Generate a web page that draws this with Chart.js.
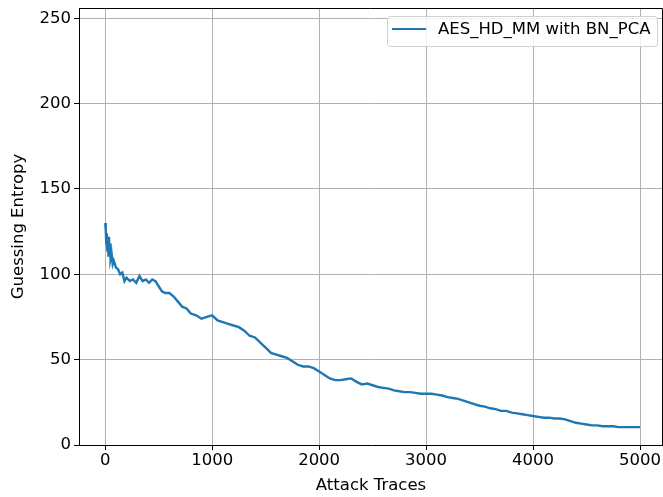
<!DOCTYPE html>
<html>
<head>
<meta charset="utf-8">
<script src="https://cdn.jsdelivr.net/npm/chart.js"></script>
<style>
  html, body { margin: 0; padding: 0; background: #fff; }
  #wrap { width: 663px; height: 497px; }
</style>
</head>
<body>
<div id="wrap"><canvas id="geChart"></canvas></div>
<script>
const traces = [0,5,10,15,20,25,30,35,40,45,50,60,70,80,100,120,140,160,180,200,
  230,260,290,320,350,380,410,440,470,500,530,560,600,640,680,720,760,800,850,900,
  950,1000,1050,1100,1150,1200,1250,1300,1350,1400,1450,1500,1550,1600,1650,1700,
  1750,1800,1850,1900,1950,2000,2050,2100,2150,2200,2250,2300,2350,2400,2450,2500,
  2550,2600,2650,2700,2750,2800,2850,2900,2950,3000,3050,3100,3150,3200,3250,3300,
  3350,3400,3450,3500,3550,3600,3650,3700,3750,3800,3850,3900,3950,4000,4050,4100,
  4150,4200,4250,4300,4350,4400,4450,4500,4550,4600,4650,4700,4750,4800,4850,4900,
  4950,5000];
const guessingEntropy = [130,126,118,124,114,120,111,122,113,118,109,112,106,108,104,103,100,101,96,98,
  96,97,95,99,96,97,95,97,96,93,90,89,89,87,84,81,80,77,76,74,
  75,76,73,72,71,70,69,67,64,63,60,57,54,53,52,51,
  49,47,46,46,45,43,41,39,38,38,38.5,39,37,35.5,36,35,
  34,33.5,33,32,31.5,31,31,30.5,30,30,30,29.5,29,28,27.5,27,
  26,25,24,23,22.5,21.5,21,20,20,19,18.5,18,17.5,17,16.5,16,
  16,15.5,15.5,15,14,13,12.5,12,11.5,11.5,11,11,11,10.5,10.5,10.5,
  10.5,10.5];
const xTicks = [0, 1000, 2000, 3000, 4000, 5000];
const yTicks = [0, 50, 100, 150, 200, 250];
const seriesName = "AES_HD_MM with BN_PCA";

const FONT = "'DejaVu Sans', sans-serif";
const FS = 16.5;

// top/right spines + in-axes legend
const frameAndLegend = {
  id: "frameAndLegend",
  afterDraw(chart) {
    const { ctx, chartArea: a } = chart;
    ctx.save();
    ctx.strokeStyle = "#000";
    ctx.lineWidth = 1;
    ctx.beginPath();
    ctx.moveTo(a.left, a.top + 0.5);
    ctx.lineTo(a.right - 0.5, a.top + 0.5);
    ctx.lineTo(a.right - 0.5, a.bottom);
    ctx.stroke();

    // legend box
    const bx = 387, by = 16, bw = 270, bh = 30;
    ctx.fillStyle = "rgba(255,255,255,0.8)";
    ctx.strokeStyle = "#d0d0d0";
    ctx.beginPath();
    ctx.roundRect(bx + 0.5, by + 0.5, bw, bh, 3);
    ctx.fill();
    ctx.stroke();
    ctx.strokeStyle = "#1f77b4";
    ctx.lineWidth = 2.2;
    ctx.beginPath();
    ctx.moveTo(392, 29);
    ctx.lineTo(426, 29);
    ctx.stroke();
    ctx.fillStyle = "#000";
    ctx.font = FS + "px " + FONT;
    ctx.textBaseline = "middle";
    ctx.fillText(seriesName, 438, 30);
    ctx.restore();
  }
};

new Chart(document.getElementById("geChart"), {
  type: "line",
  data: {
    datasets: [{
      label: seriesName,
      data: traces.map((t, i) => ({ x: t, y: guessingEntropy[i] })),
      borderColor: "#1f77b4",
      borderWidth: 2.4,
      pointRadius: 0,
      tension: 0,
      fill: false
    }]
  },
  options: {
    responsive: true,
    maintainAspectRatio: false,
    animation: false,
    layout: { padding: { top: 8, right: 0, left: 0, bottom: 0 } },
    plugins: { legend: { display: false }, tooltip: { enabled: false } },
    scales: {
      x: {
        type: "linear",
        min: -245,
        max: 5215,
        afterBuildTicks: s => { s.ticks = xTicks.map(v => ({ value: v })); },
        afterFit: s => { s.height = 52; s.paddingLeft = 0; s.paddingRight = 0; },
        grid: { color: "#b0b0b0", lineWidth: 1, tickColor: "#000", tickLength: 5 },
        border: { color: "#000" },
        ticks: { color: "#000", font: { family: FONT, size: FS }, padding: 1, maxRotation: 0, callback: v => String(v) },
        title: { display: true, text: "Attack Traces", color: "#000", font: { family: FONT, size: FS }, padding: { top: 0, bottom: 1 } }
      },
      y: {
        min: 0,
        max: 256,
        afterBuildTicks: s => { s.ticks = yTicks.map(v => ({ value: v })); },
        afterFit: s => { s.width = 79; s.paddingTop = 0; s.paddingBottom = 0; },
        grid: { color: "#b0b0b0", lineWidth: 1, tickColor: "#000", tickLength: 5 },
        border: { color: "#000" },
        ticks: { color: "#000", font: { family: FONT, size: FS }, padding: 3, callback: v => String(v) },
        title: { display: true, text: "Guessing Entropy", color: "#000", font: { family: FONT, size: FS }, padding: { top: 9, bottom: 4 } }
      }
    }
  },
  plugins: [frameAndLegend]
});
</script>
</body>
</html>
